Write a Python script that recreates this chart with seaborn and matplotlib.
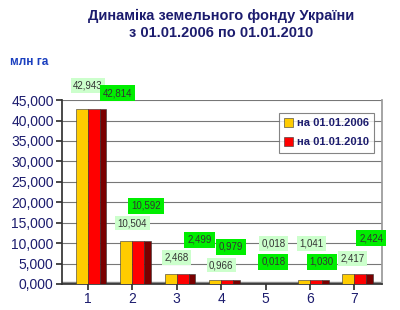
import matplotlib
matplotlib.use("Agg")
import matplotlib.pyplot as plt
import seaborn as sns
import pandas as pd
from matplotlib.patches import Rectangle

categories = ["1", "2", "3", "4", "5", "6", "7"]
series_names = ["на 01.01.2006", "на 01.01.2010"]
values_2006 = [42.943, 10.504, 2.468, 0.966, 0.018, 1.041, 2.417]
values_2010 = [42.814, 10.592, 2.499, 0.979, 0.018, 1.030, 2.424]
y_ticks = [0, 5, 10, 15, 20, 25, 30, 35, 40, 45]

df = pd.DataFrame({
    "cat": categories * 2,
    "series": [series_names[0]] * 7 + [series_names[1]] * 7,
    "val": values_2006 + values_2010,
})

sns.set_theme(style="white")
plt.rcParams['font.family'] = ['Liberation Sans', 'DejaVu Sans']
navy = "#1c1c6e"

fig = plt.figure(figsize=(4.0, 3.1), dpi=100)
ax = fig.add_axes([0.155, 0.084, 0.80, 0.593])

sns.barplot(data=df, x="cat", y="val", hue="series",
            palette=["#FFCC00", "#FF0000"], saturation=1, width=0.54, ax=ax,
            edgecolor="#333333", linewidth=0.4, legend=True, zorder=3)

# dark side faces for depth
for p in list(ax.patches):
    if p.get_height() <= 0 or p.get_width() <= 0:
        continue
    fc = p.get_facecolor()
    if fc[1] < 0.5:  # red bar -> add dark side
        side = Rectangle((p.get_x() + p.get_width(), 0), p.get_width() * 0.55,
                         p.get_height(), facecolor="#7a0000", edgecolor="#333333",
                         linewidth=0.4, zorder=3)
        ax.add_patch(side)

ax.set_xlim(-0.58, 6.62)
ax.set_ylim(0, 45)
ax.set_yticks(y_ticks)
ax.set_yticklabels([f"{v:.3f}".replace(".", ",") for v in y_ticks])
ax.tick_params(axis="y", labelsize=10, labelcolor=navy, length=4, color="#333333", left=True, pad=2)
ax.tick_params(axis="x", labelsize=10, labelcolor=navy, length=4, color="#333333", bottom=True, pad=2)
ax.set_xlabel("")
ax.set_ylabel("")
ax.yaxis.grid(True, color="#777777", linewidth=0.8, zorder=0)
ax.spines["top"].set_visible(False)
ax.spines["right"].set_color("#999999")
ax.spines["left"].set_color("#333333")
ax.spines["bottom"].set_color("#333333")
# floor
ax.axhspan(0, 0.45, color="#888888", zorder=2)

# data labels (offsets in pixels from bar tops)
light = "#ccffcc"
bright = "#00ee00"
offs_2006 = [(6, 23), (6, 18), (6, 16), (6, 15), (14, 40), (7, 36), (4, 16)]
offs_2010 = [(24, 16), (8, 35), (17, 34), (4, 33), (2, 22), (6, 18), (11, 36)]
for i, (a, b) in enumerate(zip(values_2006, values_2010)):
    ax.annotate(f"{a:.3f}".replace(".", ","), xy=(i - 0.13, a), xytext=offs_2006[i],
                textcoords="offset pixels", ha="center", va="center", fontsize=7,
                color="#333333", annotation_clip=False, zorder=5,
                bbox=dict(boxstyle="square,pad=0.25", fc=light, ec="none"))
    ax.annotate(f"{b:.3f}".replace(".", ","), xy=(i + 0.13, b), xytext=offs_2010[i],
                textcoords="offset pixels", ha="center", va="center", fontsize=7,
                color="#333333", annotation_clip=False, zorder=5,
                bbox=dict(boxstyle="square,pad=0.3", fc=bright, ec="none"))

leg = ax.legend(loc="upper left", bbox_to_anchor=(0.66, 0.962), frameon=True,
                fontsize=8, handlelength=0.8, handleheight=0.8, handletextpad=0.3,
                borderpad=0.5, labelspacing=0.8, fancybox=False)
leg.get_frame().set_edgecolor("#666666")
leg.get_frame().set_linewidth(0.8)
for t in leg.get_texts():
    t.set_color(navy)
    t.set_fontweight("bold")

fig.text(0.553, 0.948, "Динаміка земельного фонду України", ha="center", va="center",
         fontsize=10.5, fontweight="bold", color=navy)
fig.text(0.553, 0.893, "з 01.01.2006 по 01.01.2010", ha="center", va="center",
         fontsize=10.5, fontweight="bold", color=navy)
fig.text(0.025, 0.80, "млн га", ha="left", va="center", fontsize=8.5,
         fontweight="bold", color="#1a3fbf")

fig.savefig("out.png", dpi=100, facecolor="white")
